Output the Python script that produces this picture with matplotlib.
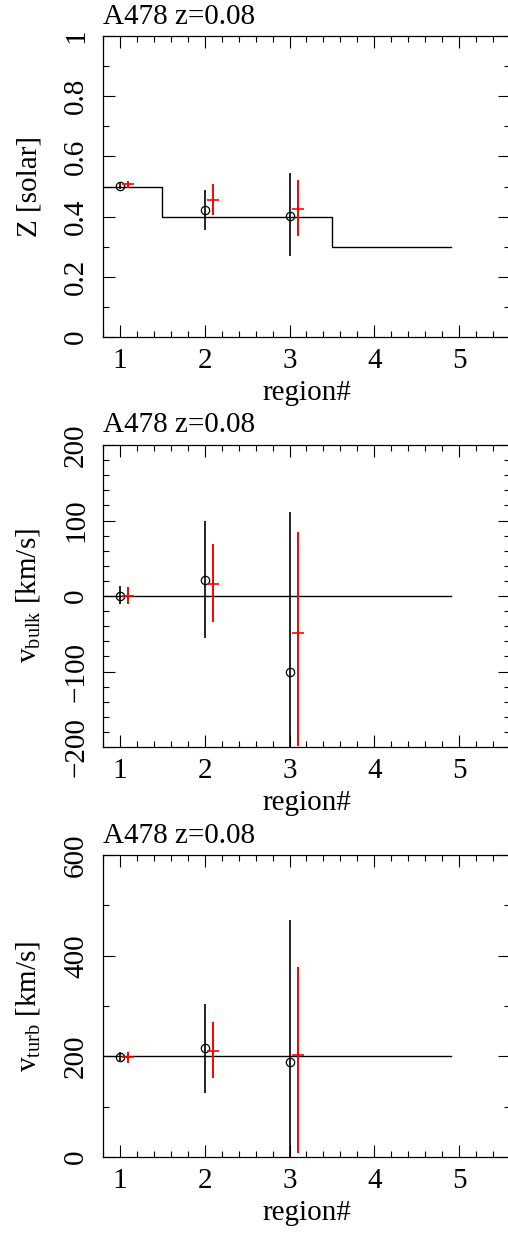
import numpy as np
import matplotlib
matplotlib.use("Agg")
import matplotlib.pyplot as plt
from matplotlib.ticker import MultipleLocator, FuncFormatter

plt.rcParams["font.family"] = ["Liberation Serif", "DejaVu Serif"]
plt.rcParams["mathtext.fontset"] = "custom"
plt.rcParams["mathtext.rm"] = "Liberation Serif"
plt.rcParams["mathtext.it"] = "Liberation Serif:italic"

# ------------------------------------------------------------
# DATA
# ------------------------------------------------------------
titulo = "A478 z=0.08"

reg_preto = [1, 2, 3]
reg_vermelho = [1.1, 2.1, 3.1]

# Z [solar]
z_preto = [0.503, 0.421, 0.402]
z_preto_lo = [0.493, 0.356, 0.270]
z_preto_hi = [0.513, 0.487, 0.544]
z_verm = [0.508, 0.456, 0.424]
z_verm_lo = [0.496, 0.406, 0.334]
z_verm_hi = [0.518, 0.508, 0.520]
z_modelo_x = [0.8, 1.5, 3.5, 4.9]
z_modelo_y = [0.5, 0.4, 0.3, 0.3]

# v_bulk [km/s]
vb_preto = [0, 21, -100]
vb_preto_lo = [-10, -55, -260]
vb_preto_hi = [13, 99, 111]
vb_verm = [0, 16, -49]
vb_verm_lo = [-11, -34, -198]
vb_verm_hi = [12, 69, 85]
vb_modelo_x = [0.8, 4.9]
vb_modelo_y = [0, 0]

# v_turb [km/s]
vt_preto = [198, 216, 188]
vt_preto_lo = [188, 128, -20]
vt_preto_hi = [208, 305, 471]
vt_verm = [198, 211, 202]
vt_verm_lo = [187, 156, 8]
vt_verm_hi = [209, 269, 377]
vt_modelo_x = [0.8, 4.9]
vt_modelo_y = [200, 200]

painéis = [
    dict(ylabel="Z [solar]", ylim=(0, 1), major=0.2, minor=0.1,
         preto=(z_preto, z_preto_lo, z_preto_hi),
         verm=(z_verm, z_verm_lo, z_verm_hi),
         modelo=(z_modelo_x, z_modelo_y)),
    dict(ylabel=r"v$_{\rm bulk}$ [km/s]", ylim=(-200, 200), major=100, minor=20,
         preto=(vb_preto, vb_preto_lo, vb_preto_hi),
         verm=(vb_verm, vb_verm_lo, vb_verm_hi),
         modelo=(vb_modelo_x, vb_modelo_y)),
    dict(ylabel=r"v$_{\rm turb}$ [km/s]", ylim=(0, 600), major=200, minor=100,
         preto=(vt_preto, vt_preto_lo, vt_preto_hi),
         verm=(vt_verm, vt_verm_lo, vt_verm_hi),
         modelo=(vt_modelo_x, vt_modelo_y)),
]


def fmt(v, pos):
    s = f"{v:g}"
    return s.replace("-", "\u2212")


# ------------------------------------------------------------
# FIGURA
# ------------------------------------------------------------
fig = plt.figure(figsize=(5.08, 12.34), dpi=100)

posicoes = [
    [0.2028, 0.7269, 0.801, 0.2439],
    [0.2028, 0.3946, 0.801, 0.2448],
    [0.2028, 0.0624, 0.801, 0.2447],
]

FS = 21

for pos, p in zip(posicoes, painéis):
    ax = fig.add_axes(pos)

    mx, my = p["modelo"]
    ax.step(mx, my, where="post", color="black", lw=1.0)

    y, lo, hi = p["preto"]
    y = np.array(y); lo = np.array(lo); hi = np.array(hi)
    ax.errorbar(reg_preto, y, yerr=[y - lo, hi - y], fmt="o", mfc="none",
                mec="black", ms=6, mew=0.9, ecolor="black", elinewidth=1.2,
                capsize=0)

    y, lo, hi = p["verm"]
    y = np.array(y); lo = np.array(lo); hi = np.array(hi)
    ax.errorbar(reg_vermelho, y, yerr=[y - lo, hi - y], fmt="_",
                color="red", ms=8, mew=1.2, ecolor="red", elinewidth=1.4,
                capsize=0)

    ax.set_xlim(0.8, 5.6)
    ax.set_ylim(*p["ylim"])
    ax.xaxis.set_major_locator(MultipleLocator(1))
    ax.xaxis.set_minor_locator(MultipleLocator(0.2))
    ax.yaxis.set_major_locator(MultipleLocator(p["major"]))
    ax.yaxis.set_minor_locator(MultipleLocator(p["minor"]))
    ax.yaxis.set_major_formatter(FuncFormatter(fmt))

    ax.tick_params(which="both", direction="in", top=True, right=True,
                   width=0.8, labelsize=FS)
    ax.tick_params(which="major", length=8.5)
    ax.tick_params(which="minor", length=4.3)
    ax.tick_params(axis="x", pad=8)
    ax.tick_params(axis="y", labelrotation=90, pad=10)
    for t in ax.get_yticklabels():
        t.set_va("center")

    for s in ax.spines.values():
        s.set_linewidth(0.9)

    ax.set_ylabel(p["ylabel"], fontsize=FS, labelpad=15)
    ax.set_xlabel("region#", fontsize=FS, labelpad=4)
    ax.set_title(titulo, loc="left", fontsize=FS, pad=9)

fig.savefig("out.png", dpi=100)
